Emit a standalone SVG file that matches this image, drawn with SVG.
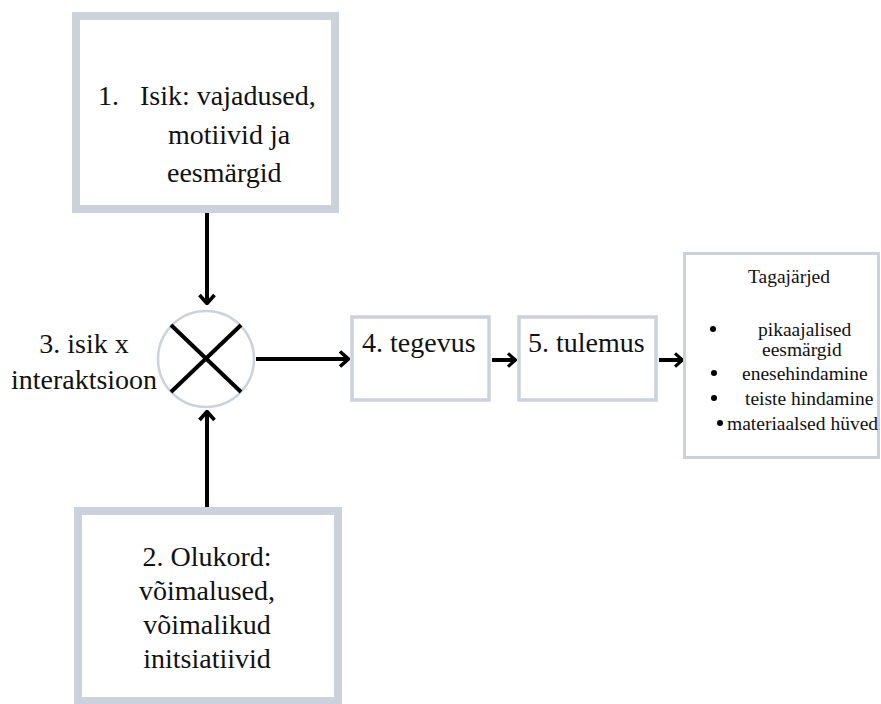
<svg xmlns="http://www.w3.org/2000/svg" width="881" height="704" viewBox="0 0 881 704">
  <style>
    .frame { fill: #ffffff; stroke: #cbd2db; }
    .thick { stroke-width: 8; }
    .thin { stroke-width: 3.5; }
    text { font-family: 'Liberation Serif', 'Times New Roman', Times, 'Noto Serif', 'DejaVu Serif', FreeSerif, 'Nimbus Roman', Georgia, serif; fill: #111111; }
    .lbl { font-size: 28px; }
    .sm { font-size: 19.5px; }
    .mid { text-anchor: middle; }
    .edge { stroke: #000000; stroke-width: 4; fill: none; }
    .cross { stroke: #000000; stroke-width: 4; stroke-linecap: butt; }
  </style>
  <defs>
    <marker id="head" viewBox="0 0 12 18" refX="11" refY="9" markerWidth="12" markerHeight="18" markerUnits="userSpaceOnUse" orient="auto">
      <polyline points="2,1.5 10.5,9 2,16.5" fill="none" stroke="#000000" stroke-width="3.6" stroke-linejoin="miter"/>
    </marker>
    <marker id="headSmall" viewBox="0 0 12 18" refX="11" refY="9" markerWidth="11" markerHeight="16" markerUnits="userSpaceOnUse" orient="auto">
      <polyline points="2,1.5 10.5,9 2,16.5" fill="none" stroke="#000000" stroke-width="3.6" stroke-linejoin="miter"/>
    </marker>
  </defs>

  <rect width="881" height="704" fill="#ffffff"/>

  <g id="connectors">
    <line class="edge" x1="207" y1="213" x2="207" y2="304" marker-end="url(#head)"/>
    <line class="edge" x1="207" y1="507" x2="207" y2="411" marker-end="url(#head)"/>
    <line class="edge" x1="256" y1="359" x2="349" y2="359" marker-end="url(#head)"/>
    <line class="edge" x1="492" y1="360" x2="516" y2="360" marker-end="url(#headSmall)"/>
    <line class="edge" x1="659" y1="360" x2="683" y2="360" marker-end="url(#headSmall)"/>
  </g>

  <g id="isik">
    <rect class="frame thick" x="76" y="16" width="259" height="193"/>
    <text class="lbl" x="98" y="105">1.</text>
    <text class="lbl" x="140" y="105">Isik: vajadused,</text>
    <text class="lbl" x="168" y="144">motiivid ja</text>
    <text class="lbl" x="167" y="182">eesmärgid</text>
  </g>

  <g id="olukord">
    <rect class="frame thick" x="78" y="511" width="260" height="190"/>
    <text class="lbl mid" x="207" y="566">2. Olukord:</text>
    <text class="lbl mid" x="207" y="600">võimalused,</text>
    <text class="lbl mid" x="207" y="634">võimalikud</text>
    <text class="lbl mid" x="207" y="668">initsiatiivid</text>
  </g>

  <g id="interaktsioon">
    <circle cx="206" cy="359" r="48" fill="#ffffff" stroke="#cbd2db" stroke-width="2.5"/>
    <line class="cross" x1="171" y1="325" x2="241" y2="392"/>
    <line class="cross" x1="241" y1="325" x2="171" y2="392"/>
    <text class="lbl mid" x="84" y="353">3. isik x</text>
    <text class="lbl mid" x="84" y="389">interaktsioon</text>
  </g>

  <g id="tegevus">
    <rect class="frame thin" x="352" y="317" width="137" height="83"/>
    <text class="lbl" x="362" y="352">4. tegevus</text>
  </g>

  <g id="tulemus">
    <rect class="frame thin" x="519" y="317" width="137" height="83"/>
    <text class="lbl" x="528" y="352">5. tulemus</text>
  </g>

  <g id="tagajarjed">
    <rect class="frame" stroke-width="3" x="684.5" y="253.5" width="194" height="204"/>
    <text class="sm mid" x="789" y="283">Tagajärjed</text>
    <circle cx="713" cy="329" r="3"/>
    <text class="sm" x="758" y="336">pikaajalised</text>
    <text class="sm" x="762" y="356">eesmärgid</text>
    <circle cx="714" cy="373" r="3"/>
    <text class="sm" x="742" y="380">enesehindamine</text>
    <circle cx="714" cy="398" r="3"/>
    <text class="sm" x="745" y="405">teiste hindamine</text>
    <circle cx="720" cy="423" r="3"/>
    <text class="sm" x="727" y="430">materiaalsed hüved</text>
  </g>
</svg>
